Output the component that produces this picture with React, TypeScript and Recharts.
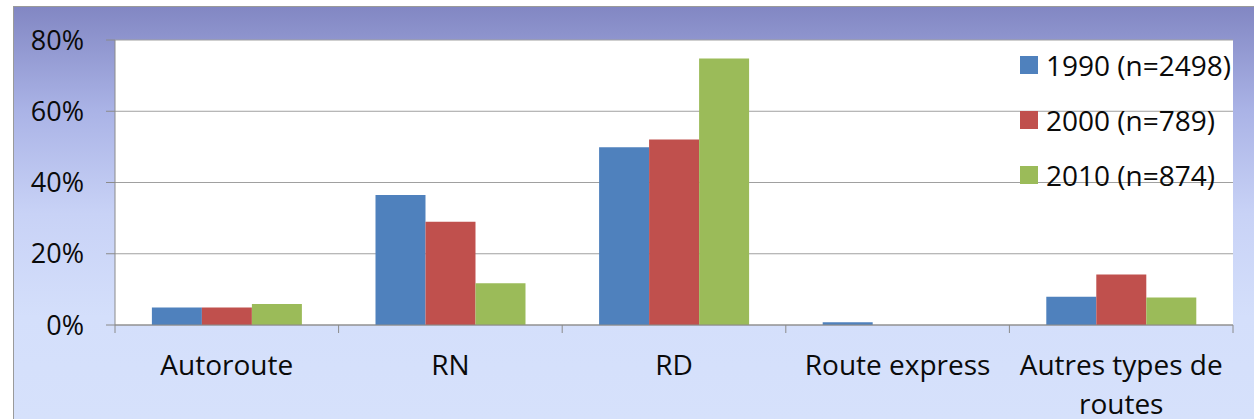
import React from "react";
import { BarChart, Bar, XAxis, YAxis, CartesianGrid, Legend } from "recharts";

const categories = ["Autoroute", "RN", "RD", "Route express", "Autres types de routes"];
const series1990 = [4.9, 36.5, 49.9, 0.8, 7.9];
const series2000 = [4.9, 29, 52.1, 0, 14.2];
const series2010 = [5.9, 11.7, 74.8, 0, 7.7];
const seriesNames = ["1990 (n=2498)", "2000 (n=789)", "2010 (n=874)"];
const yTicks = [0, 20, 40, 60, 80];

const data = categories.map((name, i) => ({
  name,
  y1990: series1990[i],
  y2000: series2000[i],
  y2010: series2010[i],
}));

const FONT = "'Open Sans', 'Noto Sans', sans-serif";
const AXIS = "#8a8a8a";

// greedy word wrap by character count
function wrap(label: string, maxChars = 16) {
  const lines: string[] = [];
  let cur = "";
  for (const w of label.split(" ")) {
    const next = cur ? cur + " " + w : w;
    if (next.length > maxChars && cur) {
      lines.push(cur);
      cur = w;
    } else cur = next;
  }
  if (cur) lines.push(cur);
  return lines;
}

function CategoryTick(props: any) {
  const { x, y, payload, index } = props;
  const half = payload?.offset ?? 111.8;
  const last = index === categories.length - 1;
  return (
    <g>
      <line x1={x - half} x2={x - half} y1={y} y2={y + 8} stroke={AXIS} />
      {last && <line x1={x + half} x2={x + half} y1={y} y2={y + 8} stroke={AXIS} />}
      <text x={x} y={y + 50} textAnchor="middle" fontSize={28} fontFamily={FONT} fill="#0a0a0a">
        {wrap(String(payload.value)).map((ln, i) => (
          <tspan key={i} x={x} dy={i === 0 ? 0 : 39}>
            {ln}
          </tspan>
        ))}
      </text>
    </g>
  );
}

function LegendBox(props: any) {
  const items = props.payload || [];
  return (
    <div style={{ fontFamily: FONT, fontSize: 28, color: "#0a0a0a" }}>
      {items.map((it: any) => (
        <div key={it.value} style={{ height: 55, display: "flex", alignItems: "center", whiteSpace: "nowrap" }}>
          <span style={{ width: 18, height: 18, background: it.color, marginRight: 8, display: "inline-block" }} />
          <span>{it.value}</span>
        </div>
      ))}
    </div>
  );
}

export default function App() {
  return (
    <div style={{ position: "absolute", left: 0, top: 0, width: 1254, height: 419, background: "#fff" }}>
      <div
        style={{
          position: "absolute",
          left: 13,
          top: 6,
          width: 1241,
          height: 413,
          borderLeft: "1px solid #9a9a9a",
          borderTop: "1px solid #9a9a9a",
          background: "linear-gradient(180deg, #8287c3 0%, #aab3e6 25%, #c8d2f6 50%, #d4dffb 75%, #d6e1fb 100%)",
        }}
      />
      <div style={{ position: "absolute", left: 0, top: 0 }}>
        <BarChart
          width={1254}
          height={419}
          data={data}
          margin={{ top: 40, right: 21, left: 15, bottom: 14 }}
          barCategoryGap="16.5%"
          barGap={0}
        >
          <CartesianGrid vertical={false} stroke="#a0a0a0" fill="#fff" />
          <XAxis
            dataKey="name"
            height={80}
            stroke={AXIS}
            tickLine={false}
            tickSize={0}
            tickMargin={0}
            interval={0}
            tick={<CategoryTick />}
          />
          <YAxis
            width={100}
            domain={[0, 80]}
            ticks={yTicks}
            tickFormatter={(v: number) => `${v}%`}
            stroke={AXIS}
            tickSize={9}
            tickMargin={22}
            tick={{ fontSize: 27, fontFamily: FONT, fill: "#0a0a0a" }}
          />
          <Legend
            layout="horizontal"
            verticalAlign="middle"
            align="center"
            wrapperStyle={{ left: 1020, top: 37, width: 240 }}
            content={<LegendBox />}
          />
          <Bar dataKey="y1990" name={seriesNames[0]} fill="#4f81bd" isAnimationActive={false} />
          <Bar dataKey="y2000" name={seriesNames[1]} fill="#c0504d" isAnimationActive={false} />
          <Bar dataKey="y2010" name={seriesNames[2]} fill="#9bbb59" isAnimationActive={false} />
        </BarChart>
      </div>
    </div>
  );
}
